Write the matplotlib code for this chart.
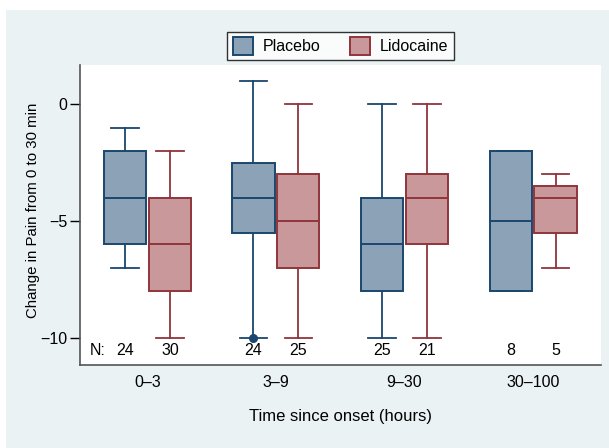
import matplotlib
matplotlib.use("Agg")
import matplotlib.pyplot as plt
from matplotlib.patches import Rectangle, Patch
import numpy as np

plt.rcParams['font.family'] = ['Liberation Sans', 'DejaVu Sans']

groups = ["0\u20133", "3\u20139", "9\u201330", "30\u2013100"]
series = ["Placebo", "Lidocaine"]

# box stats per group: [whisker_low, q1, median, q3, whisker_high]
placebo_stats = [
    [-7, -6, -4, -2, -1],
    [-10, -5.5, -4, -2.5, 1],
    [-10, -8, -6, -4, 0],
    [-8, -8, -5, -2, -2],
]
lidocaine_stats = [
    [-10, -8, -6, -4, -2],
    [-10, -7, -5, -3, 0],
    [-10, -6, -4, -3, 0],
    [-7, -5.5, -4, -3.5, -3],
]
placebo_outliers = [[], [-10], [], []]
lidocaine_outliers = [[], [], [], []]
placebo_n = [24, 24, 25, 8]
lidocaine_n = [30, 25, 21, 5]

navy = "#1a476f"
maroon = "#90353b"
navy_fill = "#8ca3b7"
maroon_fill = "#c8989b"

W, H = 609, 448
fig = plt.figure(figsize=(W / 100, H / 100), dpi=100, facecolor="white")
fig.patches.append(Rectangle((6 / W, 0), 1 - 6 / W, 1 - 10 / H, transform=fig.transFigure,
                             facecolor="#eaf2f3", edgecolor="none", zorder=-10))

ax = fig.add_axes([80 / W, 1 - 365 / H, (601 - 80) / W, (365 - 65) / H])
ax.set_facecolor("white")

def to_bxp(stats):
    out = []
    for s in stats:
        out.append(dict(whislo=s[0], q1=s[1], med=s[2], q3=s[3], whishi=s[4], fliers=[]))
    return out

x = np.arange(len(groups))
off = 0.175
width = 0.327

for stats, outl, pos, ec, fc in [
    (placebo_stats, placebo_outliers, x - off, navy, navy_fill),
    (lidocaine_stats, lidocaine_outliers, x + off, maroon, maroon_fill),
]:
    ax.bxp(to_bxp(stats), positions=pos, widths=width, patch_artist=True, showfliers=False,
           boxprops=dict(facecolor=fc, edgecolor=ec, linewidth=1.4),
           medianprops=dict(color=ec, linewidth=1.4),
           whiskerprops=dict(color=ec, linewidth=1.3),
           capprops=dict(color=ec, linewidth=1.3),
           capwidths=width * 0.65, manage_ticks=False)
    for p, o in zip(pos, outl):
        if o:
            ax.plot([p] * len(o), o, "o", color=ec, markersize=5.5, zorder=5)

# N labels
ny = -10.53
fs = 11.5
ax.text(-0.39, ny, "N:", ha="center", va="center", fontsize=fs)
for i in range(len(groups)):
    ax.text(x[i] - off, ny, str(placebo_n[i]), ha="center", va="center", fontsize=fs)
    ax.text(x[i] + off, ny, str(lidocaine_n[i]), ha="center", va="center", fontsize=fs)

ax.set_xlim(-0.525, 3.529)
ax.set_ylim(-11.17, 1.68)
ax.set_xticks(x)
ax.set_xticklabels(groups, fontsize=fs)
ax.tick_params(axis="x", length=0, pad=7)
ax.set_yticks([0, -5, -10])
ax.set_yticklabels(["0", "\u22125", "\u221210"], fontsize=fs)
ax.tick_params(axis="y", length=7, width=1, pad=2)

for s in ["top", "right"]:
    ax.spines[s].set_visible(False)
for s in ["left", "bottom"]:
    ax.spines[s].set_color("#555555")
    ax.spines[s].set_linewidth(1.2)

ax.set_xlabel("Time since onset (hours)", fontsize=12, labelpad=14)
ax.set_ylabel("Change in Pain from 0 to 30 min", fontsize=10.8)
ax.yaxis.set_label_coords((33 - 80) / 521, (365 - 210) / 300)
ax.yaxis.label.set_verticalalignment("center")

handles = [Patch(facecolor=navy_fill, edgecolor=navy, linewidth=1.4),
           Patch(facecolor=maroon_fill, edgecolor=maroon, linewidth=1.4)]
leg = fig.legend(handles, series, loc="center", bbox_to_anchor=(340.5 / W, 1 - 46 / H),
                 ncol=2, frameon=True, fancybox=False, fontsize=11.5,
                 handlelength=1.3, handleheight=1.3, columnspacing=1.8, handletextpad=0.6,
                 borderpad=0.35)
leg.get_frame().set_edgecolor("black")
leg.get_frame().set_linewidth(1.0)

fig.savefig("out.png", dpi=100, facecolor="white")
